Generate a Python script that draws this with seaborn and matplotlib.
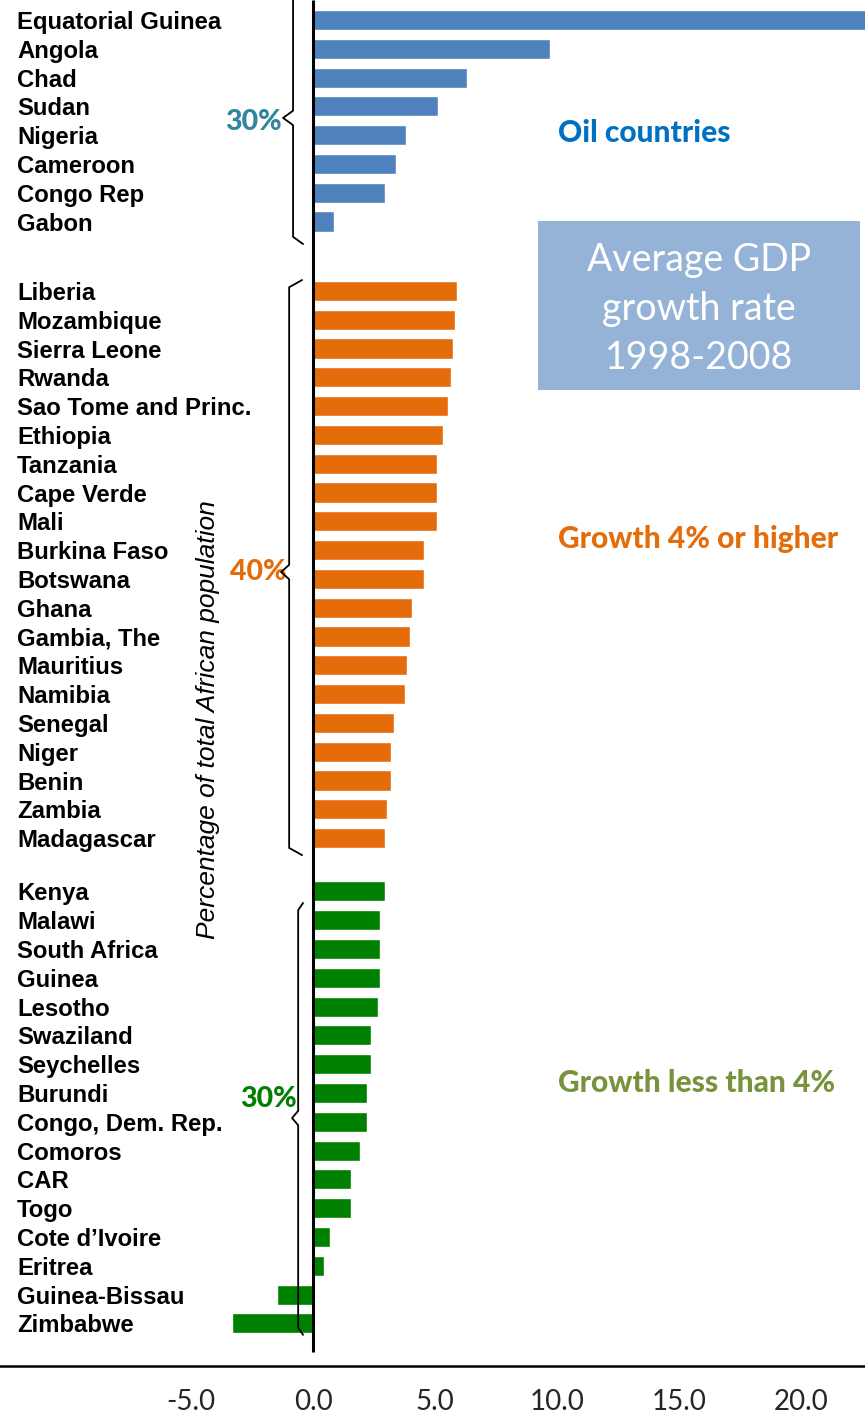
import matplotlib
matplotlib.use("Agg")
import matplotlib.pyplot as plt
import matplotlib.patches as mpatches
import numpy as np
import pandas as pd
import seaborn as sns

# --- data -------------------------------------------------------------
oil_countries = ["Equatorial Guinea", "Angola", "Chad", "Sudan", "Nigeria",
                 "Cameroon", "Congo Rep", "Gabon"]
oil_growth = [24.0, 9.7, 6.3, 5.1, 3.8, 3.4, 2.95, 0.85]

high_countries = ["Liberia", "Mozambique", "Sierra Leone", "Rwanda",
                  "Sao Tome and Princ.", "Ethiopia", "Tanzania", "Cape Verde",
                  "Mali", "Burkina Faso", "Botswana", "Ghana", "Gambia, The",
                  "Mauritius", "Namibia", "Senegal", "Niger", "Benin",
                  "Zambia", "Madagascar"]
high_growth = [5.9, 5.82, 5.74, 5.66, 5.53, 5.33, 5.08, 5.08, 5.08, 4.55,
               4.55, 4.06, 3.98, 3.85, 3.77, 3.32, 3.2, 3.2, 3.03, 2.95]

low_countries = ["Kenya", "Malawi", "South Africa", "Guinea", "Lesotho",
                 "Swaziland", "Seychelles", "Burundi", "Congo, Dem. Rep.",
                 "Comoros", "CAR", "Togo", "Cote d\u2019Ivoire", "Eritrea",
                 "Guinea-Bissau", "Zimbabwe"]
low_growth = [2.95, 2.75, 2.75, 2.75, 2.66, 2.38, 2.38, 2.21, 2.21, 1.93,
              1.56, 1.56, 0.7, 0.45, -1.48, -3.32]

group_names = ["oil", "high", "low"]
group_colors = ["#4F81BD", "#E46C0A", "#008000"]
share_labels = ["30%", "40%", "30%"]
share_colors = ["#31859C", "#E46C0A", "#008000"]
side_labels = ["Oil countries", "Growth 4% or higher", "Growth less than 4%"]
side_colors = ["#0070C0", "#E46C0A", "#77933C"]
xticks = [-5, 0, 5, 10, 15, 20]

# --- layout (row units) ----------------------------------------------
gap1, gap2 = 2.41, 1.85
oil_pos = np.arange(len(oil_countries), dtype=float)
high_pos = oil_pos[-1] + gap1 + np.arange(len(high_countries))
low_pos = high_pos[-1] + gap2 + np.arange(len(low_countries))

df = pd.DataFrame({
    "country": oil_countries + high_countries + low_countries,
    "growth": oil_growth + high_growth + low_growth,
    "group": (["oil"] * len(oil_countries) + ["high"] * len(high_countries)
              + ["low"] * len(low_countries)),
    "pos": np.concatenate([oil_pos, high_pos, low_pos]),
})

sns.set_theme(style="white")
plt.rcParams["font.family"] = ["Liberation Sans", "DejaVu Sans"]
lato = ["Lato", "DejaVu Sans"]

fig = plt.figure(figsize=(8.65, 14.16), dpi=100)
ax = fig.add_axes([0, 50 / 1416, 1, 1366 / 1416])

sns.barplot(data=df, x="growth", y="pos", hue="group", hue_order=group_names,
            palette=group_colors, orient="y", native_scale=True, dodge=False,
            width=0.7, errorbar=None, legend=False, saturation=1, ax=ax)

ax.set_xlim(-12.83, 22.62)
ax.set_ylim(46.74, -0.694)

# zero line
ax.vlines(0, -0.694, 46.25, color="black", lw=2.2, zorder=5)

# y tick labels (country names, left aligned)
ax.set_yticks(df["pos"])
ax.set_yticklabels(df["country"], ha="left", fontsize=17.2, fontweight="bold",
                   color="black")
ax.tick_params(axis="y", length=0, pad=-12.2)
ax.set_ylabel("")

# x axis
ax.set_xticks(xticks)
ax.set_xticklabels([f"{v:.1f}" for v in xticks], fontsize=20, family=lato)
ax.tick_params(axis="x", length=0, pad=16.5)
ax.set_xlabel("")

for s in ["top", "right", "left"]:
    ax.spines[s].set_visible(False)
ax.spines["bottom"].set_color("black")
ax.spines["bottom"].set_linewidth(1.8)


def brace(top, bottom, mid, xv, xend, xtip):
    d = 0.25
    xs = [xend, xv, xv, xtip, xv, xv, xend]
    ys = [top, top + d, mid - d, mid, mid + d, bottom - d, bottom]
    ax.plot(xs, ys, color="black", lw=1.3, zorder=6, clip_on=False,
            solid_joinstyle="round")


# braces with population shares
brace(-1.0, 7.78, 3.4, -0.82, -0.41, -1.23)
brace(9.03, 29.0, 19.17, -0.98, -0.45, -1.31)
brace(30.66, 45.66, 38.13, -0.61, -0.41, -0.86)

share_x = [-1.27, -1.07, -0.66]
share_y = [3.54, 19.17, 37.47]
for lab, col, x, y in zip(share_labels, share_colors, share_x, share_y):
    ax.text(x, y, lab, color=col, fontsize=20.5, fontweight="black",
            ha="right", va="center", family=lato)

side_y = [3.92, 18.02, 36.9]
for lab, col, y in zip(side_labels, side_colors, side_y):
    ax.text(10.04, y, lab, color=col, fontsize=21.5, fontweight="black",
            ha="left", va="center", family=lato)

# title box
ax.add_patch(mpatches.Rectangle((9.22, 6.98), 22.42 - 9.22, 12.85 - 6.98,
                                facecolor="#95B3D7", edgecolor="none",
                                zorder=3))
ax.text(15.82, 10.05, "Average GDP\ngrowth rate\n1998-2008", color="white",
        fontsize=27, ha="center", va="center", linespacing=1.45, zorder=4,
        family=lato)

ax.text(-4.3, 24.3, "Percentage of total African population", rotation=90,
        fontsize=19, style="italic", ha="center", va="center", color="black")

fig.savefig("out.png", dpi=100)
